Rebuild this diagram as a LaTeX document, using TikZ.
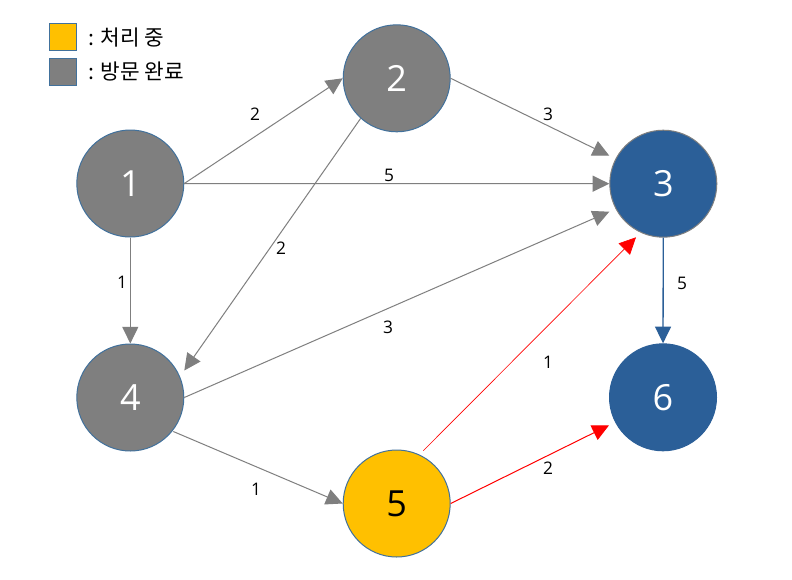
\documentclass[tikz,border=0pt]{standalone}
\usepackage{fontspec}
\setmainfont{Open Sans}
\newfontfamily\kr{Noto Sans CJK KR}
\usetikzlibrary{arrows.meta,calc}
\definecolor{ngray}{HTML}{7F7F7F}
\definecolor{nblue}{HTML}{2B5F98}
\definecolor{nborder}{HTML}{41719C}
\definecolor{nyellow}{HTML}{FFC000}
\tikzset{
  vertex/.style={circle,minimum size=80.25pt,inner sep=0pt,line width=0.75pt,font=\fontsize{27}{27}\selectfont},
  donenode/.style={vertex,fill=ngray,draw=nborder,text=white},
  curnode/.style={vertex,fill=nyellow,draw=nborder,text=black},
  bluenode/.style={vertex,fill=nblue,draw=ngray,text=white},
  blue2node/.style={vertex,fill=nblue,draw=nblue,text=white},
  tip/.style={-{Triangle[length=12.5pt,width=12pt]}},
  gedge/.style={draw=ngray,line width=0.75pt,tip},
  redge/.style={draw=red,line width=0.75pt,tip},
  bedge/.style={draw=nblue,line width=1pt,tip},
  lbl/.style={font=\fontsize{13}{13}\selectfont,text=black,inner sep=0pt},
  legbox/.style={minimum size=20pt,inner sep=0pt,line width=0.75pt,draw=nborder},
  legtxt/.style={font=\kr\fontsize{16}{16}\selectfont,anchor=west,inner sep=0pt,text=black}
}
\begin{document}
\begin{tikzpicture}[x=0.75pt,y=-0.75pt]
\useasboundingbox[fill=white] (0,0) rectangle (792,579);
% legend
\node[legbox,fill=nyellow] (ly) at (63.3,37.3) {};
\node[legbox,fill=ngray] (lg) at (63.3,71.7) {};
\node[legtxt] (lyt) at (88,37.5) {: 처리 중};
\node[legtxt] (lgt) at (88,71.9) {: 방문 완료};
% nodes
\node[donenode] (n1) at (130.3,183.5) {1};
\node[donenode] (n2) at (396.7,78.3) {2};
\node[bluenode] (n3) at (663.3,183.7) {3};
\node[donenode] (n4) at (130.3,397.5) {4};
\node[curnode] (n5) at (396.7,503.5) {5};
\node[blue2node] (n6) at (663,397.3) {6};
% edges
\draw[gedge] (n1.east) -- (n2.west);
\draw[gedge] (n1.east) -- (n3.west);
\draw[gedge] (n2.east) -- ($(n3)+(-54,-28)$);
\draw[gedge] ($(n2)+(-36,40)$) -- ($(n4)+(54,-27)$);
\draw[gedge] (n1.south) -- (n4.north);
\draw[gedge] (n4.east) -- ($(n3)+(-54,28)$);
\draw[gedge] ($(n4)+(43,34)$) -- (n5.west);
\draw[redge,line width=0.5pt] ($(n5)+(26.6,-52.8)$) -- ($(n3)+(-27.3,53.6)$);
\draw[redge] (n5.east) -- ($(n6)+(-54,28)$);
\draw[bedge] (n3.south) -- (n6.north);
% labels
\node[lbl] (l12) at (255,114) {2};
\node[lbl] (l13) at (389,175) {5};
\node[lbl] (l23) at (548,114) {3};
\node[lbl] (l24) at (281,248) {2};
\node[lbl] (l14) at (122,282) {1};
\node[lbl] (l43) at (388,327) {3};
\node[lbl] (l45) at (256,489) {1};
\node[lbl] (l53) at (548,362) {1};
\node[lbl] (l56) at (548,468) {2};
\node[lbl] (l36) at (682,283) {5};
\end{tikzpicture}
\end{document}
